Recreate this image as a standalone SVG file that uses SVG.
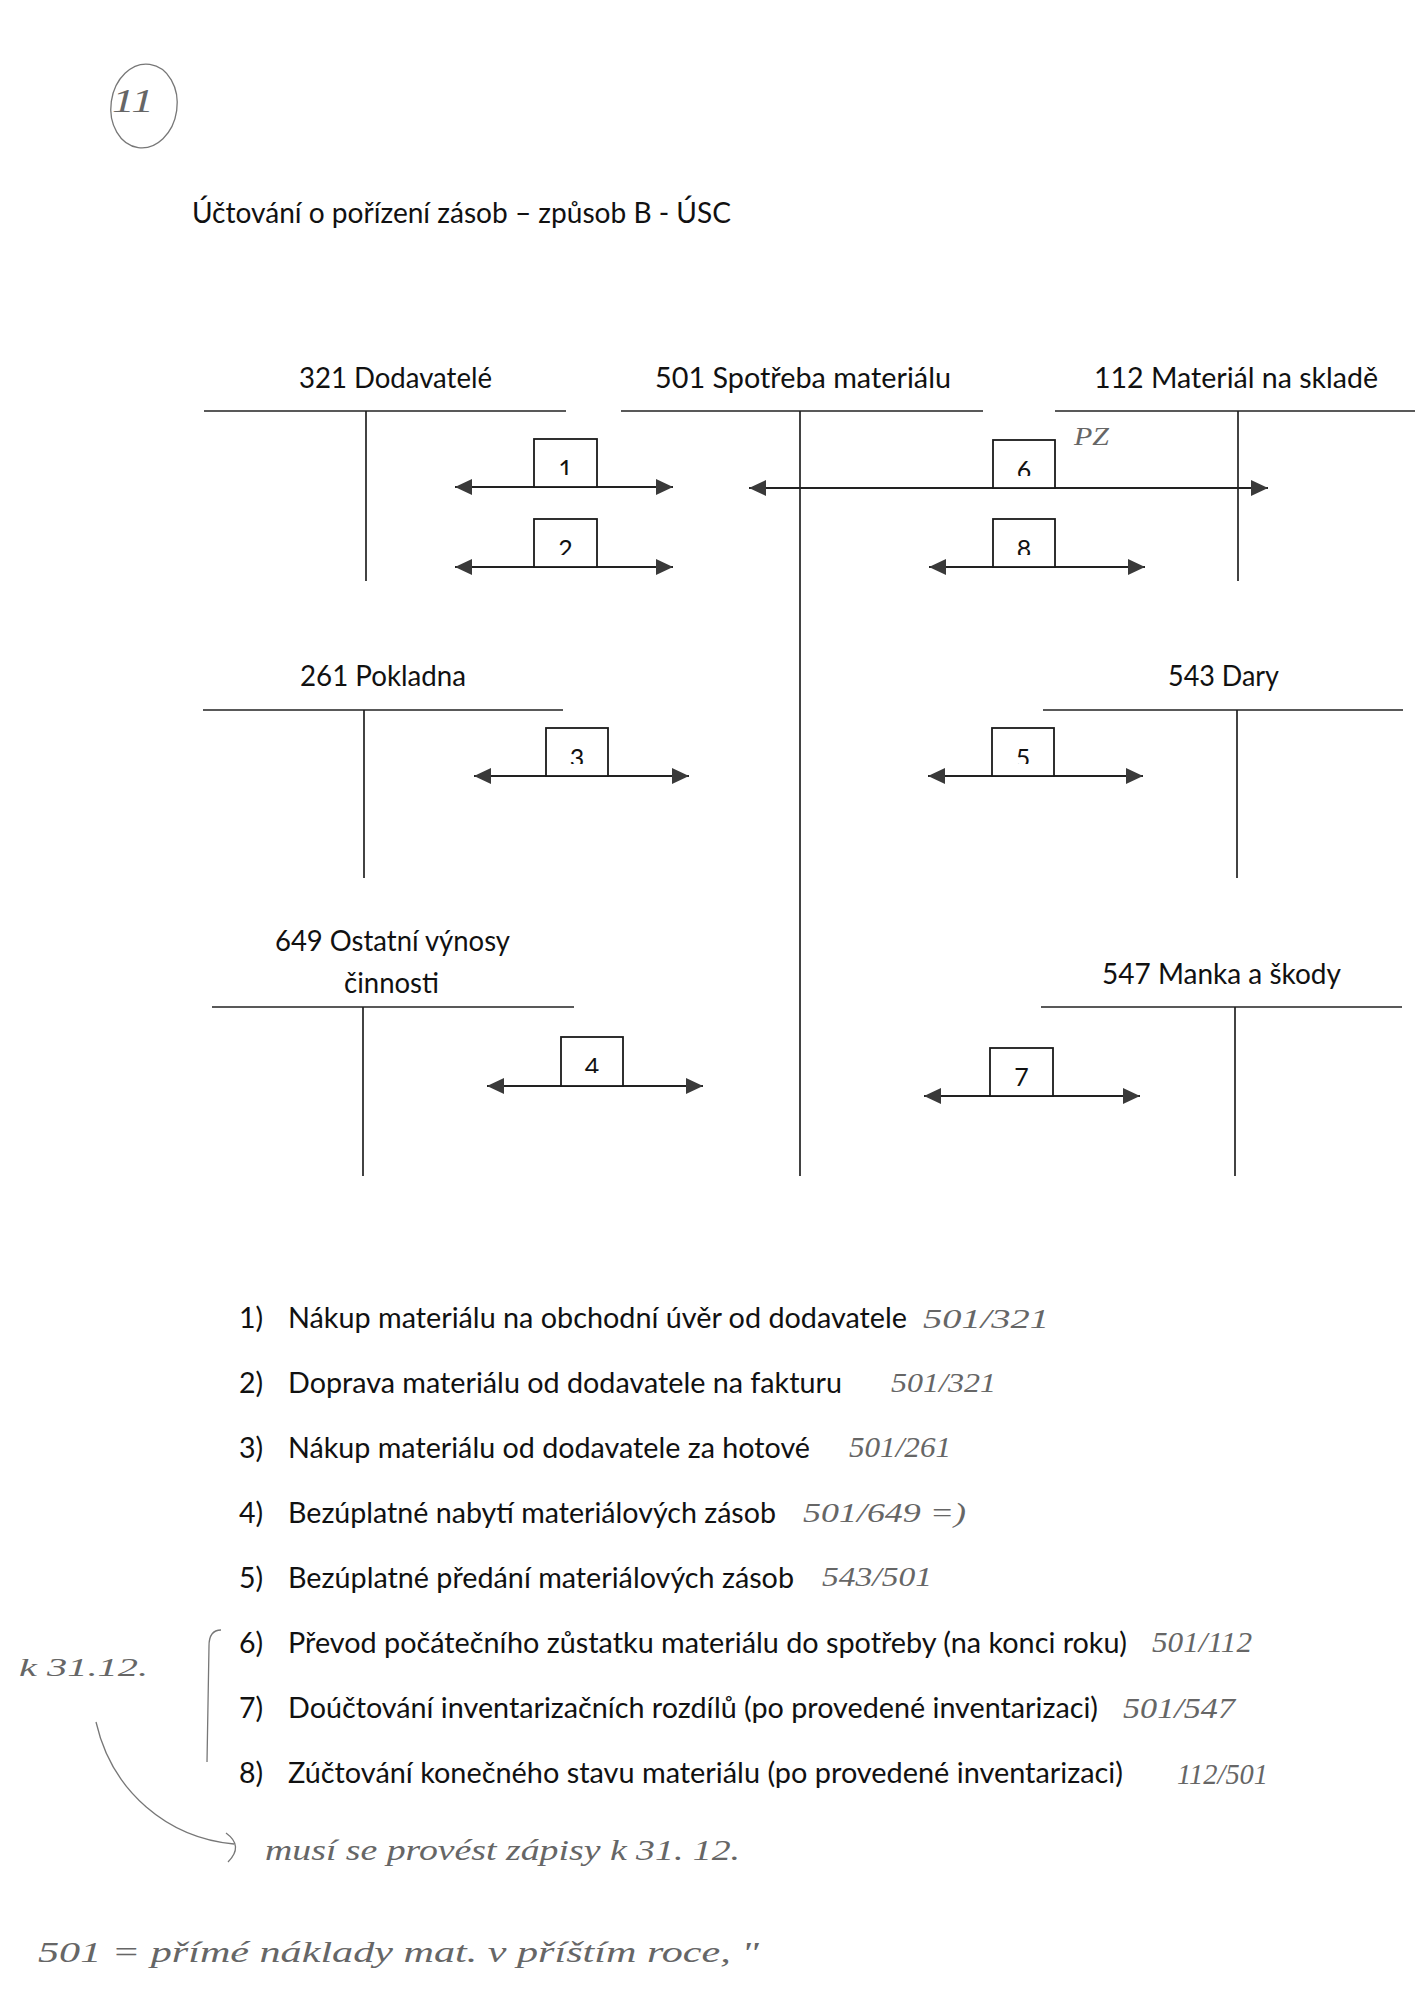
<svg xmlns="http://www.w3.org/2000/svg" width="1425" height="2015" viewBox="0 0 1425 2015">
<style>
  .t { font-family: Lato, "Liberation Sans", sans-serif; font-size: 28.5px; fill: #111; }
  .n { font-family: Lato, "Liberation Sans", sans-serif; font-size: 25px; fill: #111; text-anchor: middle; }
  .h { font-family: "Liberation Serif", "DejaVu Serif", serif; font-style: italic; fill: #666; }
  .tl { stroke: #222; stroke-width: 1.7; fill: none; }
  .box { fill: #fff; stroke: #1a1a1a; stroke-width: 1.8; }
  .arr { stroke: #222; stroke-width: 2; fill: none; marker-start: url(#ah); marker-end: url(#ah); }
  .pen { stroke: #777; stroke-width: 1.3; fill: none; }
</style>
<defs>
  <marker id="ah" markerUnits="userSpaceOnUse" markerWidth="19" markerHeight="18" refX="17" refY="9" orient="auto-start-reverse">
    <path d="M0,1 L17,9 L0,17 z" fill="#3a3a3a"/>
  </marker>
  <clipPath id="c1"><rect x="534" y="439" width="63" height="36"/></clipPath>
  <clipPath id="c2"><rect x="534" y="519" width="63" height="36"/></clipPath>
  <clipPath id="c3"><rect x="546" y="728" width="62" height="36"/></clipPath>
  <clipPath id="c4"><rect x="561" y="1037" width="62" height="36"/></clipPath>
  <clipPath id="c5"><rect x="992" y="728" width="62" height="36"/></clipPath>
  <clipPath id="c6"><rect x="993" y="440" width="62" height="36"/></clipPath>
  <clipPath id="c7"><rect x="990" y="1048" width="63" height="38"/></clipPath>
  <clipPath id="c8"><rect x="993" y="519" width="62" height="36"/></clipPath>
</defs>
<rect width="1425" height="2015" fill="#fff"/>

<g id="page-mark">
  <ellipse cx="144" cy="106" rx="33" ry="42" class="pen" transform="rotate(8 144 106)"/>
  <text x="112" y="112" class="h" font-size="34" textLength="42" lengthAdjust="spacingAndGlyphs">11</text>
</g>

<g id="title">
  <text x="192" y="223" class="t" textLength="539" lengthAdjust="spacingAndGlyphs">Účtování o pořízení zásob – způsob B - ÚSC</text>
</g>

<g id="acc-321">
  <text x="299" y="388" class="t" textLength="193" lengthAdjust="spacingAndGlyphs">321 Dodavatelé</text>
  <line x1="204" y1="411" x2="566" y2="411" class="tl"/>
  <line x1="366" y1="411" x2="366" y2="581" class="tl"/>
</g>
<g id="acc-501">
  <text x="655" y="388" class="t" textLength="296" lengthAdjust="spacingAndGlyphs">501 Spotřeba materiálu</text>
  <line x1="621" y1="411" x2="983" y2="411" class="tl"/>
  <line x1="800" y1="411" x2="800" y2="1176" class="tl"/>
</g>
<g id="acc-112">
  <text x="1094" y="388" class="t" textLength="284" lengthAdjust="spacingAndGlyphs">112 Materiál na skladě</text>
  <line x1="1055" y1="411" x2="1415" y2="411" class="tl"/>
  <line x1="1238" y1="411" x2="1238" y2="581" class="tl"/>
  <text x="1074" y="445" class="h" font-size="26" textLength="35" lengthAdjust="spacingAndGlyphs">PZ</text>
</g>
<g id="acc-261">
  <text x="300" y="686" class="t" textLength="166" lengthAdjust="spacingAndGlyphs">261 Pokladna</text>
  <line x1="203" y1="710" x2="563" y2="710" class="tl"/>
  <line x1="364" y1="710" x2="364" y2="878" class="tl"/>
</g>
<g id="acc-543">
  <text x="1168" y="686" class="t" textLength="111" lengthAdjust="spacingAndGlyphs">543 Dary</text>
  <line x1="1043" y1="710" x2="1403" y2="710" class="tl"/>
  <line x1="1237" y1="710" x2="1237" y2="878" class="tl"/>
</g>
<g id="acc-649">
  <text x="275" y="951" class="t" textLength="235" lengthAdjust="spacingAndGlyphs">649 Ostatní výnosy</text>
  <text x="344" y="993" class="t" textLength="95" lengthAdjust="spacingAndGlyphs">činnosti</text>
  <line x1="212" y1="1007" x2="574" y2="1007" class="tl"/>
  <line x1="363" y1="1007" x2="363" y2="1176" class="tl"/>
</g>
<g id="acc-547">
  <text x="1102" y="984" class="t" textLength="239" lengthAdjust="spacingAndGlyphs">547 Manka a škody</text>
  <line x1="1041" y1="1007" x2="1402" y2="1007" class="tl"/>
  <line x1="1235" y1="1007" x2="1235" y2="1176" class="tl"/>
</g>

<g id="connectors">
  <line x1="455" y1="487" x2="673" y2="487" class="arr"/>
  <line x1="455" y1="567" x2="673" y2="567" class="arr"/>
  <line x1="474" y1="776" x2="689" y2="776" class="arr"/>
  <line x1="487" y1="1086" x2="703" y2="1086" class="arr"/>
  <line x1="928" y1="776" x2="1143" y2="776" class="arr"/>
  <line x1="749" y1="488" x2="1268" y2="488" class="arr"/>
  <line x1="924" y1="1096" x2="1140" y2="1096" class="arr"/>
  <line x1="929" y1="567" x2="1145" y2="567" class="arr"/>
</g>

<g id="tx-1"><rect x="534" y="439" width="63" height="48" class="box"/><text x="565.5" y="478" class="n" clip-path="url(#c1)">1</text></g>
<g id="tx-2"><rect x="534" y="519" width="63" height="48" class="box"/><text x="565.5" y="558" class="n" clip-path="url(#c2)">2</text></g>
<g id="tx-3"><rect x="546" y="728" width="62" height="48" class="box"/><text x="577" y="767" class="n" clip-path="url(#c3)">3</text></g>
<g id="tx-4"><rect x="561" y="1037" width="62" height="49" class="box"/><text x="592" y="1076" class="n" clip-path="url(#c4)">4</text></g>
<g id="tx-5"><rect x="992" y="728" width="62" height="48" class="box"/><text x="1023" y="767" class="n" clip-path="url(#c5)">5</text></g>
<g id="tx-6"><rect x="993" y="440" width="62" height="48" class="box"/><text x="1024" y="479" class="n" clip-path="url(#c6)">6</text></g>
<g id="tx-7"><rect x="990" y="1048" width="63" height="48" class="box"/><text x="1021.5" y="1086" class="n" clip-path="url(#c7)">7</text></g>
<g id="tx-8"><rect x="993" y="519" width="62" height="48" class="box"/><text x="1024" y="558" class="n" clip-path="url(#c8)">8</text></g>

<g id="list">
  <text x="239" y="1328" class="t">1)</text>
  <text x="288" y="1328" class="t" textLength="619" lengthAdjust="spacingAndGlyphs">Nákup materiálu na obchodní úvěr od dodavatele</text>
  <text x="239" y="1393" class="t">2)</text>
  <text x="288" y="1393" class="t" textLength="554" lengthAdjust="spacingAndGlyphs">Doprava materiálu od dodavatele na fakturu</text>
  <text x="239" y="1458" class="t">3)</text>
  <text x="288" y="1458" class="t" textLength="522" lengthAdjust="spacingAndGlyphs">Nákup materiálu od dodavatele za hotové</text>
  <text x="239" y="1523" class="t">4)</text>
  <text x="288" y="1523" class="t" textLength="488" lengthAdjust="spacingAndGlyphs">Bezúplatné nabytí materiálových zásob</text>
  <text x="239" y="1588" class="t">5)</text>
  <text x="288" y="1588" class="t" textLength="506" lengthAdjust="spacingAndGlyphs">Bezúplatné předání materiálových zásob</text>
  <text x="239" y="1653" class="t">6)</text>
  <text x="288" y="1653" class="t" textLength="839" lengthAdjust="spacingAndGlyphs">Převod počátečního zůstatku materiálu do spotřeby (na konci roku)</text>
  <text x="239" y="1718" class="t">7)</text>
  <text x="288" y="1718" class="t" textLength="810" lengthAdjust="spacingAndGlyphs">Doúčtování inventarizačních rozdílů (po provedené inventarizaci)</text>
  <text x="239" y="1783" class="t">8)</text>
  <text x="288" y="1783" class="t" textLength="835" lengthAdjust="spacingAndGlyphs">Zúčtování konečného stavu materiálu (po provedené inventarizaci)</text>
</g>

<g id="annotations">
  <text x="923" y="1328" class="h" font-size="28" textLength="126" lengthAdjust="spacingAndGlyphs">501/321</text>
  <text x="891" y="1392" class="h" font-size="28" textLength="105" lengthAdjust="spacingAndGlyphs">501/321</text>
  <text x="849" y="1457" class="h" font-size="30" textLength="102" lengthAdjust="spacingAndGlyphs">501/261</text>
  <text x="803" y="1522" class="h" font-size="28" textLength="163" lengthAdjust="spacingAndGlyphs">501/649  =)</text>
  <text x="822" y="1586" class="h" font-size="28" textLength="110" lengthAdjust="spacingAndGlyphs">543/501</text>
  <text x="1152" y="1652" class="h" font-size="30" textLength="100" lengthAdjust="spacingAndGlyphs">501/112</text>
  <text x="1123" y="1718" class="h" font-size="30" textLength="112" lengthAdjust="spacingAndGlyphs">501/547</text>
  <text x="1177" y="1784" class="h" font-size="30" textLength="91" lengthAdjust="spacingAndGlyphs">112/501</text>
  <text x="19" y="1676" class="h" font-size="26" textLength="129" lengthAdjust="spacingAndGlyphs">k 31.12.</text>
  <path d="M221 1630 C213 1630 209 1636 209 1646 L207 1762" class="pen"/>
  <path d="M96 1722 C112 1792 168 1838 234 1844" class="pen"/>
  <path d="M226 1833 Q244 1846 228 1862" class="pen"/>
  <text x="265" y="1860" class="h" font-size="30" textLength="475" lengthAdjust="spacingAndGlyphs">musí se provést zápisy k 31. 12.</text>
  <text x="38" y="1962" class="h" font-size="30" textLength="721" lengthAdjust="spacingAndGlyphs">501 = přímé náklady mat. v příštím roce, "</text>
</g>
</svg>
